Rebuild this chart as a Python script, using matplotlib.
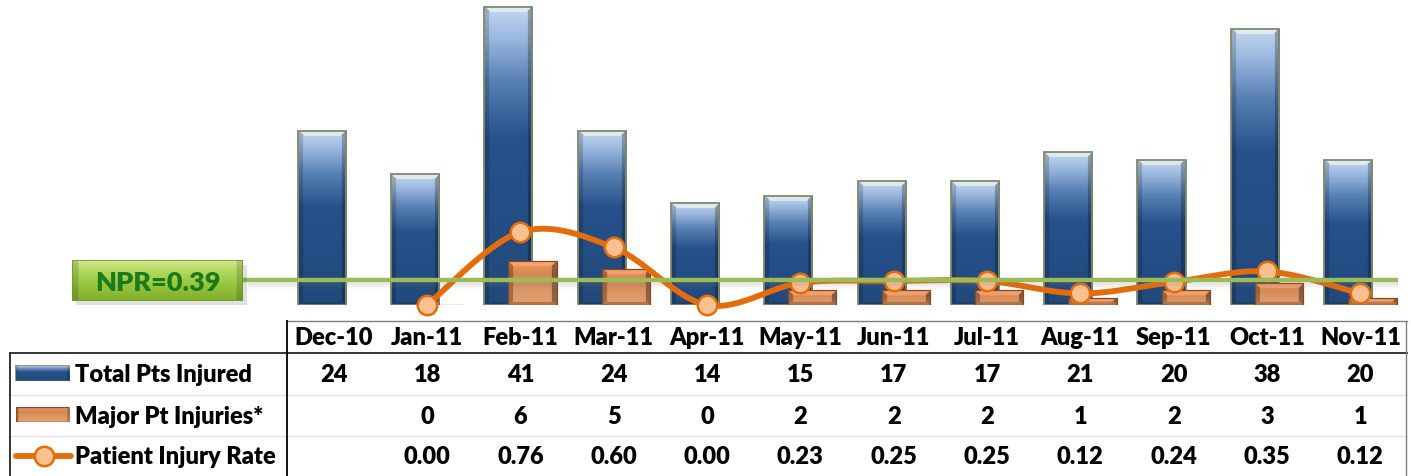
import numpy as np
import matplotlib
matplotlib.use("Agg")
import matplotlib.pyplot as plt
from matplotlib.colors import LinearSegmentedColormap
from matplotlib.patches import Rectangle
from matplotlib.lines import Line2D
import matplotlib.transforms as mtransforms

# ---------------- data ----------------
months = ["Dec-10", "Jan-11", "Feb-11", "Mar-11", "Apr-11", "May-11",
          "Jun-11", "Jul-11", "Aug-11", "Sep-11", "Oct-11", "Nov-11"]
total_injured = [24, 18, 41, 24, 14, 15, 17, 17, 21, 20, 38, 20]
major_injuries = [None, 0, 6, 5, 0, 2, 2, 2, 1, 2, 3, 1]
injury_rate = [None, 0.00, 0.76, 0.60, 0.00, 0.23, 0.25, 0.25, 0.12, 0.24, 0.35, 0.12]
row_labels = ["Total Pts Injured", "Major Pt Injuries*", "Patient Injury Rate"]
npr_text = "NPR=0.39"
npr_line_level = 0.26   # drawn position of NPR line on rate axis

FONT = ["Lato", "DejaVu Sans"]
plt.rcParams['font.family'] = FONT
WEIGHT = "heavy"

W, H = 1411, 477
fig = plt.figure(figsize=(W / 100, H / 100), dpi=100)
fig.patch.set_facecolor("white")

def fx(px):
    return px / W

def fy(py):
    return 1 - py / H

AX_TOP, AX_BOT = 0, 306
ax = fig.add_axes([fx(287), fy(AX_BOT), fx(1407) - fx(287), fy(AX_TOP) - fy(AX_BOT)])
ax.set_facecolor("none")
for s in ax.spines.values():
    s.set_visible(False)
ax.set_xticks([])
ax.set_yticks([])
n = len(months)
xpos = np.arange(n)
XLIM = (-0.5, n - 0.5)
YLIM = (0, 42.1)
ax.set_xlim(*XLIM)
ax.set_ylim(*YLIM)
px_per_unit = (AX_BOT - AX_TOP) / (YLIM[1] - YLIM[0])

bw = 0.515
off = 0.13

blue_cmap = LinearSegmentedColormap.from_list(
    "blue", [(0.0, "#22497A"), (0.5, "#25508A"), (0.56, "#27528A"),
             (0.75, "#5880B4"), (0.9, "#9DBAE0"), (1.0, "#C4D8F0")])
orange_cmap = LinearSegmentedColormap.from_list(
    "orange", [(0.0, "#E2A070"), (0.3, "#DD9866"), (0.7, "#D58753"),
               (0.9, "#E8925A"), (1.0, "#F4A574")])

def gradient_fill(patch, cmap, zorder, top_col, bot_col, side_dark):
    x0, y0 = patch.get_x(), patch.get_y()
    w, h = patch.get_width(), patch.get_height()
    if h <= 0:
        return
    hpx = h * px_per_unit
    rows, cols = max(int(hpx), 4), 48
    v = (np.arange(rows) + 0.5)[:, None] / rows
    rgb = cmap(np.repeat(v, cols, axis=1))[:, :, :3]
    yy = (np.arange(rows) + 0.5)[:, None] * np.ones((1, cols))   # px from bottom
    xx = np.ones((rows, 1)) * (np.arange(cols) + 0.5)[None, :]
    dtop = hpx - yy
    dleft, dright = xx, cols - xx
    bev = 6.0
    tc = np.array(top_col)
    bc = np.array(bot_col)
    mtop = (dtop < bev) & (dtop < dleft) & (dtop < dright)
    rgb[mtop] = rgb[mtop] * 0.3 + tc * 0.7
    mbot = (yy < 3) & (yy < dleft) & (yy < dright)
    rgb[mbot] = rgb[mbot] * 0.6 + bc * 0.4
    ml = (dleft < 5) & ~mtop & ~mbot
    mr = (dright < 5) & ~mtop & ~mbot
    rgb[ml] = rgb[ml] * side_dark
    rgb[mr] = rgb[mr] * (side_dark - 0.08)
    im = ax.imshow(np.clip(rgb, 0, 1), extent=[x0, x0 + w, y0, y0 + h],
                   origin="lower", aspect="auto", zorder=zorder,
                   interpolation="bilinear")
    im.set_clip_path(patch)

blue_bars = ax.bar(xpos - off, total_injured, width=bw, color="none",
                   edgecolor="#7D8A6C", linewidth=1.3, zorder=3)
for p in blue_bars:
    gradient_fill(p, blue_cmap, 2, (0.93, 0.96, 0.93), (0.1, 0.2, 0.3), 0.82)

maj_x = [x + off for x, m in zip(xpos, major_injuries) if m is not None]
maj_v = [m for m in major_injuries if m is not None]
orange_bars = ax.bar(maj_x, maj_v, width=bw, color="none",
                     edgecolor="#8A4822", linewidth=0.9, zorder=5)
for p in orange_bars:
    gradient_fill(p, orange_cmap, 4, (0.98, 0.66, 0.45), (0.45, 0.22, 0.1), 0.72)

ax.set_xlim(*XLIM)
ax.set_ylim(*YLIM)

# ---------------- rate line (secondary axis) ----------------
ax2 = ax.twinx()
ax2.set_facecolor("none")
for s in ax2.spines.values():
    s.set_visible(False)
ax2.set_yticks([])
ax2.set_xlim(*XLIM)
ax2.set_ylim(0, 3.19)

rx = np.array([x for x, r in zip(xpos, injury_rate) if r is not None], float)
ry = np.array([r for r in injury_rate if r is not None], float)

def smooth(xs, ys, k=30):
    pts = np.column_stack([xs, ys])
    out = []
    m = len(pts)
    for i in range(m - 1):
        p0 = pts[i - 1] if i > 0 else pts[i]
        p1 = pts[i]
        p2 = pts[i + 1]
        p3 = pts[i + 2] if i + 2 < m else pts[i + 1]
        c1 = p1 + (p2 - p0) / 6
        c2 = p2 - (p3 - p1) / 6
        t = np.linspace(0, 1, k)[:, None]
        seg = ((1 - t) ** 3) * p1 + 3 * ((1 - t) ** 2) * t * c1 + 3 * (1 - t) * t ** 2 * c2 + t ** 3 * p2
        out.append(seg if i == 0 else seg[1:])
    arr = np.vstack(out)
    return arr[:, 0], arr[:, 1]

sx, sy = smooth(rx, ry)
ax2.plot(sx, sy, color="#E46C0A", lw=4.2, solid_capstyle="round", zorder=3, clip_on=False)
ax2.plot(rx, ry, linestyle="none", marker="o", markersize=14,
         markerfacecolor="#FAC090", markeredgecolor="#E46C0A",
         markeredgewidth=1.8, zorder=4, clip_on=False)

# NPR line with soft shadow
lx0 = (243 - 287) / ((1407 - 287) / n) - 0.5
lx1 = (1398 - 287) / ((1407 - 287) / n) - 0.5
for k, a in enumerate([0.10, 0.07, 0.04]):
    ax2.plot([lx0 + 0.05, lx1], [npr_line_level - 0.035 - 0.02 * k] * 2,
             color="#808080", alpha=a, lw=3, zorder=5, clip_on=False,
             solid_capstyle="butt")
ax2.plot([lx0, lx1], [npr_line_level] * 2, color="#9BBB59", lw=3.2,
         zorder=6, clip_on=False, solid_capstyle="butt")

# NPR label box
shadow = Rectangle((fx(76), fy(306)), fx(243) - fx(72), fy(262) - fy(302),
                   transform=fig.transFigure, facecolor="#000000", alpha=0.12,
                   edgecolor="none", zorder=8)
fig.add_artist(shadow)
bax = fig.add_axes([fx(72), fy(302), fx(243) - fx(72), fy(261) - fy(302)], zorder=9)
bax.set_axis_off()
green_cmap = LinearSegmentedColormap.from_list(
    "green", [(0.0, "#80AE2C"), (0.4, "#98C63E"), (0.8, "#B8DC66"), (1.0, "#D0EA90")])
g = np.linspace(0, 1, 60)[:, None] * np.ones((1, 80))
grgb = green_cmap(g)[:, :, :3]
u = np.linspace(0, 1, 80)
side = np.where((u < 0.03) | (u > 0.97), 0.85, 1.0)
grgb = grgb * side[None, :, None]
bax.imshow(np.clip(grgb, 0, 1), extent=[0, 1, 0, 1], origin="lower", aspect="auto")
bax.add_patch(Rectangle((0, 0), 1, 1, fill=False, edgecolor="#6F9A2C", lw=1.2,
                        transform=bax.transAxes))
bax.set_xlim(0, 1)
bax.set_ylim(0, 1)
bax.text(0.5, 0.47, npr_text, ha="center", va="center", fontsize=19.5,
         fontweight=WEIGHT, color="#1B7A1B", family=FONT)

# ---------------- data table ----------------
trans = mtransforms.blended_transform_factory(ax.transData, fig.transFigure)
FS = 17
header_y = fy(338)
row_y = [fy(375), fy(417), fy(457)]
for i, mth in enumerate(months):
    fig.text(i, header_y, mth, transform=trans, ha="center", va="center",
             fontsize=FS, fontweight=WEIGHT, color="#000000")

def fmt_int(v):
    return "" if v is None else f"{v}"

def fmt_rate(v):
    return "" if v is None else f"{v:.2f}"

rows_txt = [[fmt_int(v) for v in total_injured],
            [fmt_int(v) for v in major_injuries],
            [fmt_rate(v) for v in injury_rate]]
for r, vals in enumerate(rows_txt):
    for i, t in enumerate(vals):
        if t:
            fig.text(i, row_y[r], t, transform=trans, ha="center", va="center",
                     fontsize=FS, fontweight=WEIGHT, color="#000000")

for r, lab in enumerate(row_labels):
    fig.text(fx(75), row_y[r], lab, ha="left", va="center", fontsize=FS,
             fontweight=WEIGHT, color="#000000")

def hline(y, x0, x1, color, lw):
    fig.add_artist(Line2D([fx(x0), fx(x1)], [fy(y), fy(y)], transform=fig.transFigure,
                          color=color, lw=lw))

def vline(x, y0, y1, color, lw):
    fig.add_artist(Line2D([fx(x), fx(x)], [fy(y0), fy(y1)], transform=fig.transFigure,
                          color=color, lw=lw))

hline(322, 287, 1407, "#7F7F7F", 1.0)
hline(354, 10, 1407, "#262626", 1.3)
hline(396, 10, 1407, "#E0E0E0", 0.8)
hline(437, 10, 1407, "#E0E0E0", 0.8)
vline(287, 322, 477, "#000000", 1.3)
vline(10, 354, 477, "#262626", 1.3)
vline(1406, 322, 477, "#7F7F7F", 1.0)

# legend keys in table
def key_rect(x0, y0, x1, y1, cmap, edge):
    kax = fig.add_axes([fx(x0), fy(y1), fx(x1) - fx(x0), fy(y0) - fy(y1)])
    kax.set_axis_off()
    v = np.linspace(0, 1, 30)[:, None] * np.ones((1, 60))
    krgb = cmap(v)[:, :, :3]
    uu = np.linspace(0, 1, 60)
    sd = np.where((uu < 0.05) | (uu > 0.95), 0.8, 1.0)
    kax.imshow(np.clip(krgb * sd[None, :, None], 0, 1), extent=[0, 1, 0, 1],
               origin="lower", aspect="auto")
    kax.add_patch(Rectangle((0, 0), 1, 1, fill=False, edgecolor=edge, lw=1.0,
                            transform=kax.transAxes))
    kax.set_xlim(0, 1)
    kax.set_ylim(0, 1)

key_rect(15, 366, 70, 382, blue_cmap, "#8E9C80")
key_rect(16, 408, 69, 423, orange_cmap, "#8A4822")

fig.add_artist(Line2D([fx(16), fx(71)], [fy(457), fy(457)], transform=fig.transFigure,
                      color="#E46C0A", lw=4.2, solid_capstyle="round"))
fig.add_artist(Line2D([fx(44)], [fy(457)], transform=fig.transFigure, marker="o",
                      markersize=14, markerfacecolor="#FAC090",
                      markeredgecolor="#E46C0A", markeredgewidth=1.8, linestyle="none"))

fig.savefig("out.png", dpi=100, facecolor="white")
